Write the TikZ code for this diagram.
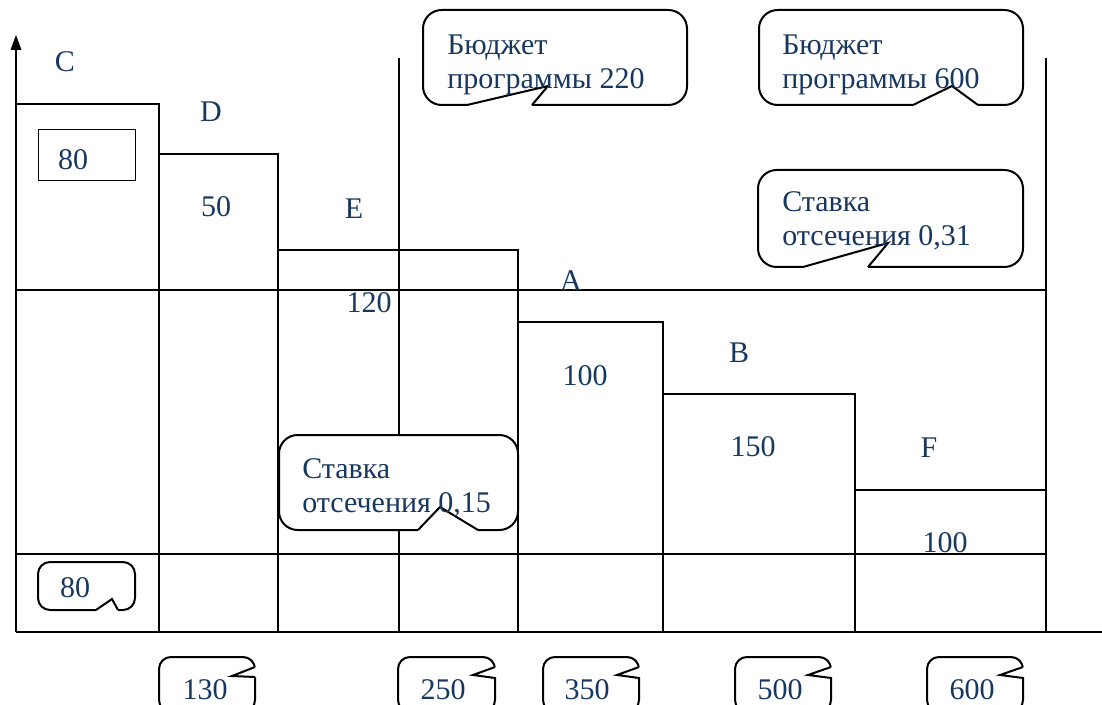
\documentclass[tikz,border=0pt]{standalone}
\usepackage{fontspec}
\setmainfont{Liberation Serif}
\usepackage{tikz}
\usetikzlibrary{arrows.meta}
\pgfdeclarelayer{background}
\pgfdeclarelayer{foreground}
\pgfsetlayers{background,main,foreground}
\definecolor{textblue}{RGB}{23,55,94}

\begin{document}
\begin{tikzpicture}[x=0.75pt,y=-0.75pt,
  bar/.style={line width=1.5pt},
  lbl/.style={text=textblue,font=\fontsize{22.5}{25.5}\selectfont,inner sep=0pt},
  callout/.style={draw,fill=white,line width=1.5pt,rounded corners=14},
  tag/.style={draw,fill=white,line width=1.5pt,rounded corners=9}]
\useasboundingbox (0,0) rectangle (1102,705);
\begin{pgfonlayer}{background}
\draw[bar] (16,632) -- (16,50);
\fill (10.5,50) -- (16,35) -- (21.5,50) -- cycle;
\draw[bar] (16,632) -- (1102,632);
\draw[bar] (16,290) -- (1046,290);
\draw[bar] (16,554) -- (1046,554);
\draw[bar] (399,58) -- (399,632);
\draw[bar] (1046,58) -- (1046,632);
\draw[bar] (16,104) -- (159,104) -- (159,632);
\draw[bar] (159,154) -- (278,154) -- (278,632);
\draw[bar] (278,250) -- (518,250) -- (518,632);
\draw[bar] (518,322) -- (663,322) -- (663,632);
\draw[bar] (663,394) -- (855,394) -- (855,632);
\draw[bar] (855,490) -- (1046,490);
\draw[line width=0.6pt] (38,129) rectangle (135,180);
\end{pgfonlayer}
\draw[callout] (423,10) rectangle (687,105);
\draw[white,line width=3pt] (467,105) -- (532,105);
\draw[bar] (467,105) -- (548,86) -- (532,105);
\draw[callout] (759,10) rectangle (1023,105);
\draw[white,line width=3pt] (913,105) -- (978,105);
\draw[bar] (913,105) -- (952,86) -- (978,105);
\draw[callout] (758,170) rectangle (1023,267);
\draw[white,line width=3pt] (803,267) -- (868,267);
\draw[bar] (803,267) -- (888,243) -- (868,267);
\draw[callout] (279,435) rectangle (518,530);
\draw[white,line width=3pt] (418,530) -- (478,530);
\draw[bar] (418,530) -- (440,507) -- (478,530);
\draw[tag] (38,562) rectangle (135,610);
\draw[white,line width=3pt] (96,610) -- (118,610);
\draw[bar] (96,610) -- (112,599) -- (118,610);
\draw[tag] (159,657) rectangle (255,712);
\draw[white,line width=3pt] (255,667) -- (255,677);
\draw[bar] (255,667) -- (232,676) -- (255,677);
\draw[tag] (398,657) rectangle (495,712);
\draw[white,line width=3pt] (495,667) -- (495,677);
\draw[bar] (495,667) -- (473,675) -- (495,678);
\draw[tag] (543,657) rectangle (639,712);
\draw[white,line width=3pt] (639,667) -- (639,677);
\draw[bar] (639,667) -- (617,675) -- (639,678);
\draw[tag] (735,657) rectangle (831,712);
\draw[white,line width=3pt] (831,667) -- (831,677);
\draw[bar] (831,667) -- (808,675) -- (831,678);
\draw[tag] (927,657) rectangle (1023,712);
\draw[white,line width=3pt] (1023,667) -- (1023,677);
\draw[bar] (1023,667) -- (1000,675) -- (1023,678);
\begin{pgfonlayer}{foreground}
\node[lbl] (c) at (65,62) {C};
\node[lbl] (d) at (211,112) {D};
\node[lbl] (e) at (354,209) {E};
\node[lbl] (a) at (571,281) {A};
\node[lbl] (b) at (739,353) {B};
\node[lbl] (f) at (929,448) {F};
\node[lbl] (valc) at (73,160) {80};
\node[lbl] (vald) at (216,207) {50};
\node[lbl] (vale) at (369,303) {120};
\node[lbl] (vala) at (585,376) {100};
\node[lbl] (valb) at (753,447) {150};
\node[lbl] (valf) at (945,543) {100};
\node[lbl,anchor=west,align=left] (budget220) at (447,65) {Бюджет\\программы 220};
\node[lbl,anchor=west,align=left] (budget600) at (782,65) {Бюджет\\программы 600};
\node[lbl,anchor=west,align=left] (cut031) at (782,221) {Ставка\\отсечения 0,31};
\node[lbl,anchor=west,align=left] (cut015) at (302,488) {Ставка\\отсечения 0,15};
\node[lbl] (start) at (75,588) {80};
\node[lbl] (t130) at (205,690) {130};
\node[lbl] (t250) at (443,690) {250};
\node[lbl] (t350) at (587,690) {350};
\node[lbl] (t500) at (780,690) {500};
\node[lbl] (t600) at (972,690) {600};
\end{pgfonlayer}
\end{tikzpicture}
\end{document}
